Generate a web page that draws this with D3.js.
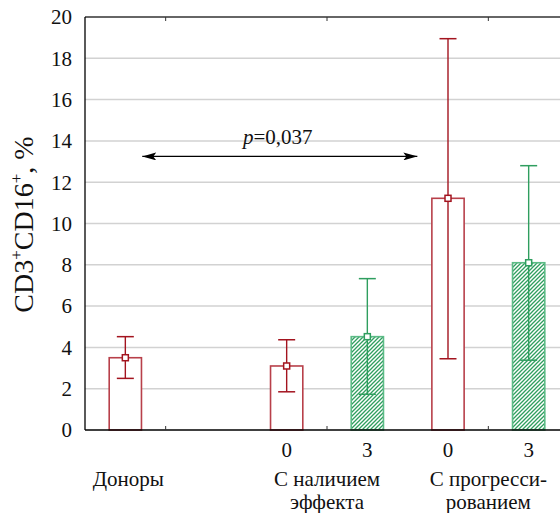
<!DOCTYPE html>
<html>
<head>
<meta charset="utf-8">
<script src="https://cdn.jsdelivr.net/npm/d3@7"></script>
</head>
<body style="margin:0">
<script>
// data
const groupLabels = [['Доноры'], ['С наличием', 'эффекта'], ['С прогресси-', 'рованием']];
const groupSlots = [0, 2.5, 4.5];
const barSlots = [0, 2, 3, 4, 5];
const barDays = ['', '0', '3', '0', '3'];
const means = [3.5, 3.1, 4.52, 11.22, 8.1];
const lows = [2.5, 1.85, 1.73, 3.45, 3.38];
const highs = [4.52, 4.37, 7.33, 18.95, 12.8];
const hatched = [false, false, true, false, true];
const yTicks = [0, 2, 4, 6, 8, 10, 12, 14, 16, 18, 20];
const xTicks = [0.5, 2.5, 4.5];
const arrowFrom = 0.21, arrowTo = 3.62, arrowAt = 13.25;
const pLabel = '0,037';

const width = 560, height = 513;
const plotLeft = 85, plotRight = 569, plotTop = 17, plotBottom = 430;
const fontFamily = "'Liberation Serif', monospace";

const red = '#a3141f', redLight = '#b8404a';
const green = '#2f9e5f', greenLight = '#5cbb86';

const svg = d3.select('body')
  .append('svg')
  .attr('width', width)
  .attr('height', height)
  .style('display', 'block');

const x = d3.scaleLinear().domain([-0.5, 5.5]).range([plotLeft, plotRight]);
const y = d3.scaleLinear().domain([0, 20]).range([plotBottom, plotTop]);
const barW = x(0.2) - x(-0.2);

const defs = svg.append('defs');
const pat = defs.append('pattern')
  .attr('id', 'hatch')
  .attr('patternUnits', 'userSpaceOnUse')
  .attr('width', 4)
  .attr('height', 4);
pat.append('rect').attr('width', 4).attr('height', 4).attr('fill', '#fff');
pat.append('path')
  .attr('d', 'M-1,1 l2,-2 M0,4 l4,-4 M3,5 l2,-2')
  .attr('stroke', green)
  .attr('stroke-width', 1.3);

defs.append('marker')
  .attr('id', 'arrowhead')
  .attr('viewBox', '0 0 14 8')
  .attr('refX', 14)
  .attr('refY', 4)
  .attr('markerWidth', 14)
  .attr('markerHeight', 8)
  .attr('markerUnits', 'userSpaceOnUse')
  .attr('orient', 'auto-start-reverse')
  .append('path')
  .attr('d', 'M0,0 L14,4 L0,8 L3,4 Z')
  .attr('fill', '#000');

// grid
svg.append('g')
  .selectAll('line')
  .data(yTicks.filter(d => d > 0 && d < 20))
  .enter()
  .append('line')
  .attr('x1', plotLeft)
  .attr('x2', plotRight)
  .attr('y1', d => y(d))
  .attr('y2', d => y(d))
  .attr('stroke', '#d2d2d2')
  .attr('stroke-width', 1.5);

// y tick labels
svg.append('g')
  .selectAll('text')
  .data(yTicks)
  .enter()
  .append('text')
  .style('font-family', fontFamily)
  .attr('x', plotLeft - 13)
  .attr('y', d => y(d))
  .attr('dy', '0.35em')
  .attr('text-anchor', 'end')
  .attr('font-size', 21)
  .text(d => d);

// bars
const bars = svg.append('g')
  .selectAll('g')
  .data(means.map((m, i) => ({ m, lo: lows[i], hi: highs[i], slot: barSlots[i], hatch: hatched[i] })))
  .enter()
  .append('g');

bars.append('rect')
  .attr('x', d => x(d.slot) - barW / 2)
  .attr('y', d => y(d.m))
  .attr('width', barW)
  .attr('height', d => y(0) - y(d.m))
  .attr('fill', d => d.hatch ? 'url(#hatch)' : '#fff')
  .attr('stroke', d => d.hatch ? greenLight : redLight)
  .attr('stroke-width', 1.6);

bars.append('line')
  .attr('x1', d => x(d.slot))
  .attr('x2', d => x(d.slot))
  .attr('y1', d => y(d.hi))
  .attr('y2', d => y(d.lo))
  .attr('stroke', d => d.hatch ? green : red)
  .attr('stroke-width', 1.4);

bars.selectAll('.cap')
  .data(d => [d.lo, d.hi].map(v => ({ v, d })))
  .enter()
  .append('line')
  .attr('x1', c => x(c.d.slot) - 8.5)
  .attr('x2', c => x(c.d.slot) + 8.5)
  .attr('y1', c => y(c.v))
  .attr('y2', c => y(c.v))
  .attr('stroke', c => c.d.hatch ? green : red)
  .attr('stroke-width', 1.5);

bars.append('rect')
  .attr('x', d => x(d.slot) - 3)
  .attr('y', d => y(d.m) - 3)
  .attr('width', 6)
  .attr('height', 6)
  .attr('fill', '#fff')
  .attr('stroke', d => d.hatch ? green : red)
  .attr('stroke-width', 1.5);

// frame
svg.append('line')
  .attr('x1', plotLeft).attr('x2', plotRight)
  .attr('y1', plotTop).attr('y2', plotTop)
  .attr('stroke', '#333').attr('stroke-width', 1.3);
svg.append('line')
  .attr('x1', plotLeft).attr('x2', plotRight)
  .attr('y1', plotBottom).attr('y2', plotBottom)
  .attr('stroke', '#000').attr('stroke-width', 1.5);
svg.append('line')
  .attr('x1', plotLeft).attr('x2', plotLeft)
  .attr('y1', plotTop).attr('y2', plotBottom)
  .attr('stroke', '#000').attr('stroke-width', 1.3);

svg.append('g')
  .selectAll('line')
  .data(xTicks)
  .enter()
  .append('line')
  .attr('x1', d => x(d)).attr('x2', d => x(d))
  .attr('y1', plotBottom).attr('y2', plotBottom - 4)
  .attr('stroke', '#333');
svg.append('g')
  .selectAll('line')
  .data(xTicks)
  .enter()
  .append('line')
  .attr('x1', d => x(d)).attr('x2', d => x(d))
  .attr('y1', plotTop).attr('y2', plotTop + 4)
  .attr('stroke', '#333');

// x labels
svg.append('g')
  .selectAll('text')
  .data(barDays.map((t, i) => ({ t, slot: barSlots[i] })).filter(d => d.t))
  .enter()
  .append('text')
  .style('font-family', fontFamily)
  .attr('x', d => x(d.slot))
  .attr('y', 457)
  .attr('text-anchor', 'middle')
  .attr('font-size', 21)
  .text(d => d.t);

const glData = [];
groupLabels.forEach((lines, i) => {
  lines.forEach((l, k) => glData.push({ l, k, slot: groupSlots[i] }));
});
svg.append('g')
  .selectAll('text')
  .data(glData)
  .enter()
  .append('text')
  .style('font-family', fontFamily)
  .attr('text-anchor', 'middle')
  .attr('font-size', 21)
  .attr('x', d => x(d.slot) + (d.slot === 0 ? 3 : 0))
  .attr('y', d => 486 + d.k * 23)
  .text(d => d.l);

// y label
const yl = svg.append('text')
  .style('font-family', fontFamily)
  .attr('transform', `translate(33, ${(plotTop + plotBottom) / 2 + 1}) rotate(-90)`)
  .attr('text-anchor', 'middle')
  .attr('font-size', 28);
yl.append('tspan').text('CD3');
yl.append('tspan').attr('font-size', 17).attr('dy', -11).text('+');
yl.append('tspan').attr('dy', 11).text('CD16');
yl.append('tspan').attr('font-size', 17).attr('dy', -11).text('+');
yl.append('tspan').attr('dy', 11).text(', %');

// significance arrow
svg.append('line')
  .attr('x1', x(arrowFrom))
  .attr('x2', x(arrowTo))
  .attr('y1', y(arrowAt))
  .attr('y2', y(arrowAt))
  .attr('stroke', '#000')
  .attr('stroke-width', 1.3)
  .attr('marker-start', 'url(#arrowhead)')
  .attr('marker-end', 'url(#arrowhead)');

const pt = svg.append('text')
  .style('font-family', fontFamily)
  .attr('x', x((arrowFrom + arrowTo) / 2) - 2)
  .attr('y', y(arrowAt) - 12)
  .attr('text-anchor', 'middle')
  .attr('font-size', 21);
pt.append('tspan').attr('font-style', 'italic').text('p');
pt.append('tspan').text('=' + pLabel);

svg.selectAll('text').attr('fill', '#111');
</script>
</body>
</html>
